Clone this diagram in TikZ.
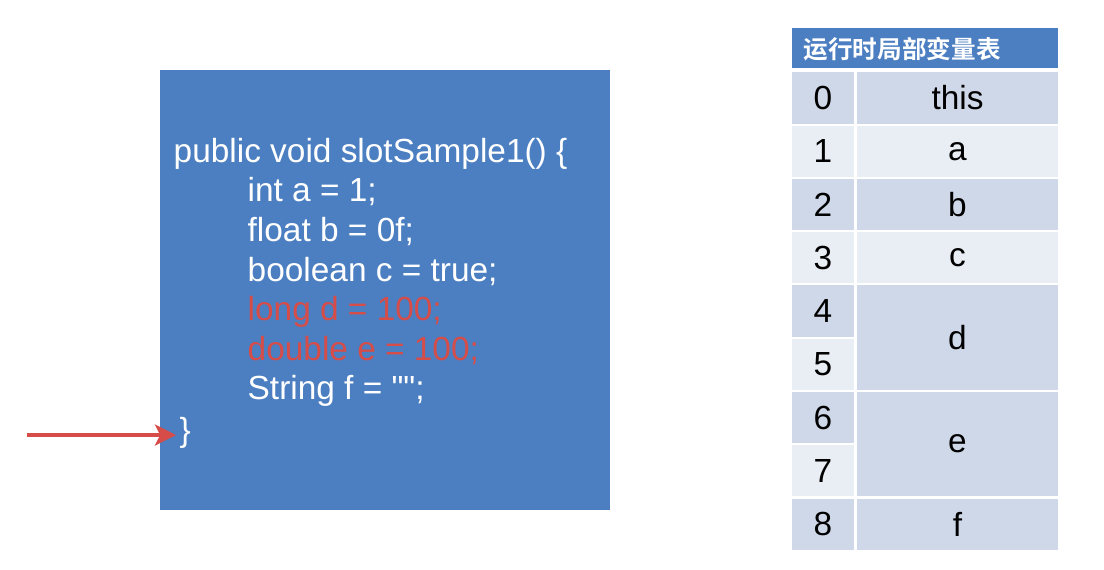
\documentclass[tikz,border=0pt]{standalone}
\usepackage{fontspec}
\setmainfont{Liberation Sans}[Ligatures=TeXOff]
\newfontfamily\cjk{Noto Sans CJK SC}[BoldFont={Noto Sans CJK SC Bold}]
\usepackage{tikz}
\usetikzlibrary{arrows.meta, positioning}

\definecolor{slotBlue}{RGB}{76,127,193}
\definecolor{slotRed}{RGB}{214,76,72}
\definecolor{cellDark}{RGB}{207,216,232}
\definecolor{cellLight}{RGB}{233,237,244}

\tikzset{
    codeline/.style={anchor=base west, inner sep=0pt, text=white, font=\fontsize{9.5pt}{11pt}\selectfont},
    hotline/.style={codeline, text=slotRed},
    idxcell/.style={inner sep=0pt, minimum width=0.62cm, minimum height=0.51cm, font=\fontsize{9.5pt}{11pt}\selectfont},
    varcell/.style={idxcell, minimum width=2.01cm},
}

\begin{document}
\begin{tikzpicture}[x=0.01cm, y=-0.01cm]
        % one unit is one pixel of the reference, y pointing down
        \useasboundingbox (0, 0) rectangle (1104, 569);
        % code block
        \node [fill=slotBlue, inner sep=0pt, minimum width=4.5cm, minimum height=4.4cm] (codeBox) at (385, 290) {};
        \node [codeline] (lineHead) at (173, 162) {public void slotSample1() \{};
        \node [codeline] (lineA) at (247, 201) {int a = 1;};
        \node [codeline] (lineB) at (247, 241) {float b = 0f;};
        \node [codeline] (lineC) at (247, 281) {boolean c = true;};
        \node [hotline] (lineD) at (247, 320) {long d = 100;};
        \node [hotline] (lineE) at (247, 360) {double e = 100;};
        \node [codeline] (lineF) at (247, 399) {String f = "";};
        \node [codeline, outer sep=1pt] (lineEnd) at (176, 441) {\}};
        % pointer to the current line
        \coordinate (pcStart) at (27, 435);
        \draw [slotRed, line width=1pt, arrows={-{Stealth[length=6pt, width=6pt, inset=1.5pt]}}] (pcStart) -- (pcStart -| lineEnd.west);
        % local variable table
        \node [fill=slotBlue, inner sep=0pt, minimum width=2.66cm, minimum height=0.4cm] (tableHead) at (925, 48) {};
        \node [anchor=west, inner sep=0pt, text=white, font=\cjk\bfseries\fontsize{7pt}{8pt}\selectfont] (tableTitle) at (803, 49) {运行时局部变量表};
        \node [idxcell, fill=cellDark] (slot0) at (823, 98) {0};
        \node [idxcell, fill=cellLight] (slot1) at (823, 151.25) {1};
        \node [idxcell, fill=cellDark] (slot2) at (823, 204.5) {2};
        \node [idxcell, fill=cellLight] (slot3) at (823, 257.75) {3};
        \node [idxcell, fill=cellDark] (slot4) at (823, 311) {4};
        \node [idxcell, fill=cellLight] (slot5) at (823, 364.25) {5};
        \node [idxcell, fill=cellDark] (slot6) at (823, 417.5) {6};
        \node [idxcell, fill=cellLight] (slot7) at (823, 470.75) {7};
        \node [idxcell, fill=cellDark] (slot8) at (823, 524) {8};
        \node [varcell, fill=cellDark] (varThis) at (957.5, 98) {this};
        \node [varcell, fill=cellLight] (varA) at (957.5, 151.25) {a};
        \node [varcell, fill=cellDark] (varB) at (957.5, 204.5) {b};
        \node [varcell, fill=cellLight] (varC) at (957.5, 257.75) {c};
        \node [varcell, fill=cellDark, minimum height=1.0425cm] (varD) at (957.5, 337.6) {d};
        \node [varcell, fill=cellDark, minimum height=1.0425cm] (varE) at (957.5, 444.1) {e};
        \node [varcell, fill=cellDark] (varF) at (957.5, 524) {f};
\end{tikzpicture}
\end{document}
